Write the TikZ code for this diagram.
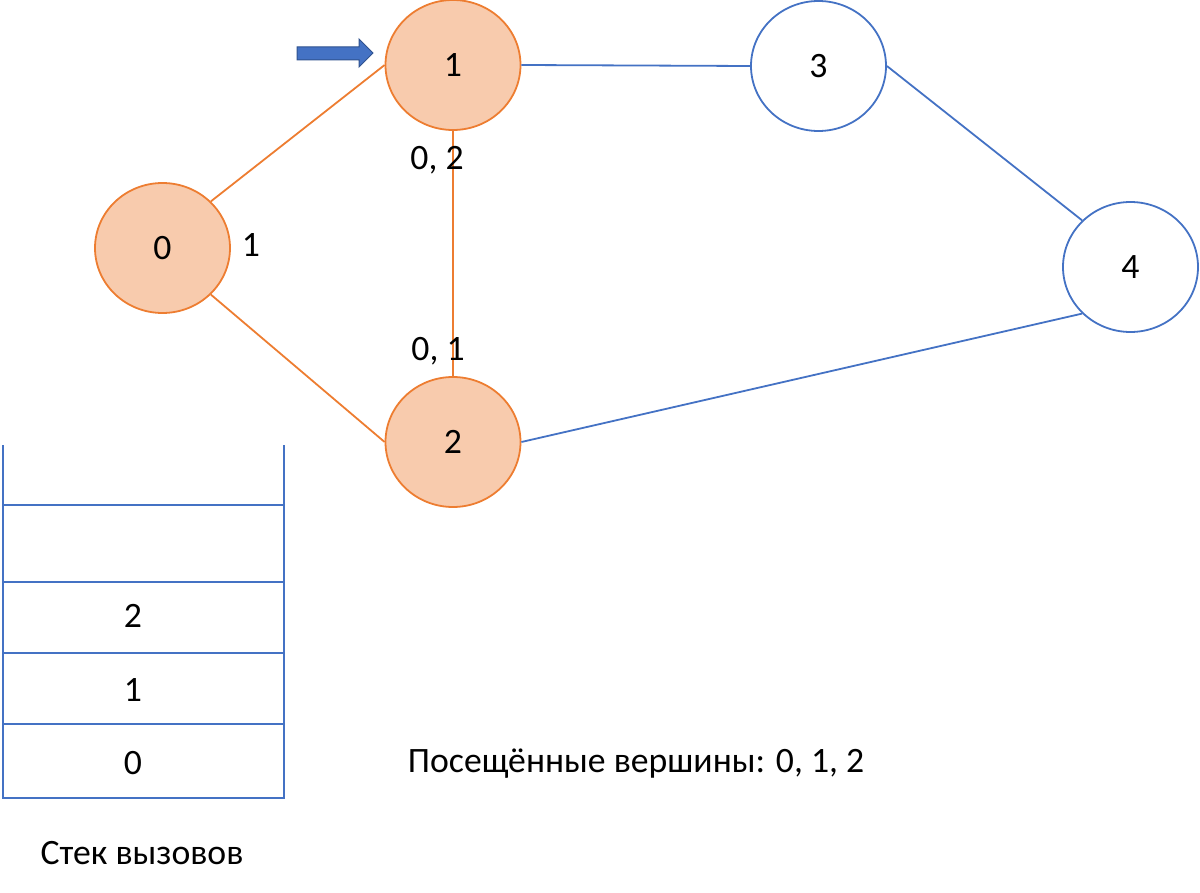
\documentclass[tikz,border=0pt]{standalone}
\usepackage{fontspec}
\setmainfont{Carlito}
\usetikzlibrary{shapes.geometric}
\definecolor{orfill}{HTML}{F8CBAD}
\definecolor{orline}{HTML}{ED7D31}
\definecolor{bline}{HTML}{4472C4}
\definecolor{bdark}{HTML}{2F528F}
\tikzset{
  txt/.style={font=\fontsize{35.7}{40}\selectfont},
  vis/.style={ellipse,draw=orline,fill=orfill,line width=1.8pt,minimum width=135pt,minimum height=130pt,inner sep=0pt,txt},
  unv/.style={ellipse,draw=bline,fill=white,line width=1.8pt,minimum width=135pt,minimum height=130pt,inner sep=0pt,txt},
  oedge/.style={draw=orline,line width=1.8pt},
  bedge/.style={draw=bline,line width=1.8pt},
  lbl/.style={inner sep=0pt,txt},
  stk/.style={draw=bline,line width=2.8pt},
}
\begin{document}
\begin{tikzpicture}[x=1pt,y=-1pt]
\useasboundingbox (0,0) rectangle (1200,893);
% stack
\coordinate (sTL) at (3,445);
\coordinate (sTR) at (284,445);
\coordinate (sBL) at (3,798);
\coordinate (sBR) at (284,798);
\draw[stk] (sTL) -- (sBL) -- (sBR) -- (sTR);
\foreach \yy in {505,582,653,724} \draw[stk] (3,\yy) -- (284,\yy);
\node[lbl] (st2) at (133,616) {2};
\node[lbl] (st1) at (133,690) {1};
\node[lbl] (st0) at (133,763) {0};
\node[lbl] (stlab) at (142,853) {Стек вызовов};
% nodes
\node[vis] (n0) at (162.5,248) {0};
\node[vis] (n1) at (453,65) {1};
\node[vis] (n2) at (453,442) {2};
\node[unv] (n3) at (818.5,66) {3};
\node[unv] (n4) at (1130.5,267) {4};
% edges
\draw[oedge] (n0.north east) -- (n1.west);
\draw[oedge] (n0.south east) -- (n2.west);
\draw[oedge] (n1.south) -- (n2.north);
\draw[bedge] (n1.east) -- (n3.west);
\draw[bedge] (n3.east) -- (n4.north west);
\draw[bedge] (n2.east) -- (n4.south west);
% labels
\node[lbl] (l0) at (251,245) {1};
\node[lbl] (l1) at (437,160) {0, 2};
\node[lbl] (l2) at (438,351) {0, 1};
\node[lbl] (vis) at (636,764) {Посещённые вершины: 0, 1, 2};
% pointer arrow
\filldraw[fill=bline,draw=bdark,line width=1pt] (297,47) -- (359,47) -- (359,39) -- (373,53) -- (359,67) -- (359,60) -- (297,60) -- cycle;
\end{tikzpicture}
\end{document}
